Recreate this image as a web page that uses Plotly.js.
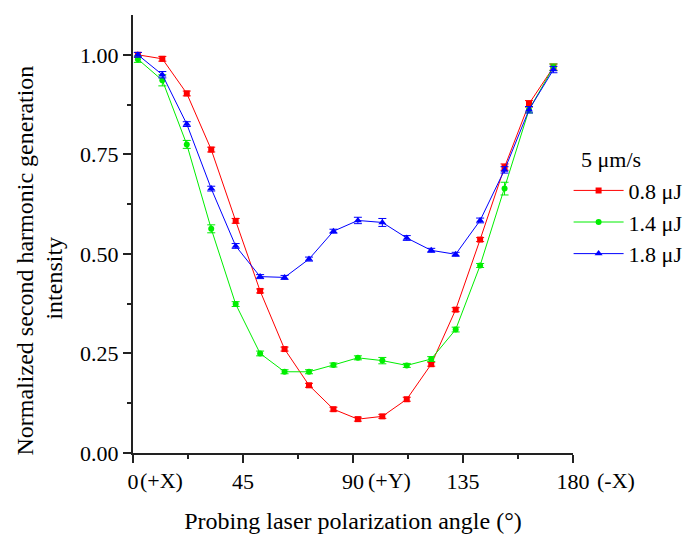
<!DOCTYPE html>
<html>
<head>
<meta charset="utf-8">
<script src="https://cdn.plot.ly/plotly-3.0.1.min.js"></script>
<style>html,body{margin:0;padding:0;background:#fff;}#chart{width:686px;height:534px;}</style>
</head>
<body>
<div id="chart"></div>
<script>
const angles = [2, 12, 22, 32, 42, 52, 62, 72, 82, 92, 102, 112, 122, 132, 142, 152, 162, 172];
const red08 = [1.000, 0.990, 0.903, 0.762, 0.583, 0.407, 0.261, 0.170, 0.110, 0.085, 0.092, 0.135, 0.223, 0.360, 0.536, 0.718, 0.877, 0.969];
const green14 = [0.989, 0.936, 0.775, 0.563, 0.374, 0.250, 0.204, 0.204, 0.221, 0.239, 0.232, 0.220, 0.236, 0.310, 0.471, 0.664, 0.862, 0.969];
const blue18 = [1.000, 0.950, 0.826, 0.664, 0.520, 0.443, 0.441, 0.487, 0.557, 0.584, 0.579, 0.540, 0.509, 0.499, 0.584, 0.711, 0.862, 0.963];
const redErr = [0.006, 0.006, 0.006, 0.006, 0.006, 0.005, 0.005, 0.005, 0.005, 0.005, 0.005, 0.005, 0.005, 0.005, 0.005, 0.008, 0.008, 0.008];
const greenErr = [0.008, 0.014, 0.010, 0.010, 0.006, 0.006, 0.005, 0.005, 0.005, 0.005, 0.008, 0.005, 0.006, 0.006, 0.005, 0.016, 0.008, 0.008];
const blueErr = [0.006, 0.008, 0.006, 0.006, 0.006, 0.005, 0.005, 0.005, 0.005, 0.008, 0.010, 0.006, 0.005, 0.005, 0.006, 0.008, 0.008, 0.008];
const seriesNames = ['0.8 μJ', '1.4 μJ', '1.8 μJ'];
const legendTitle = '5 μm/s';
const tickVals = [0, 45, 90, 135, 180];
const tickText = ['0', '45', '90', '135', '180'];
const tickSuffix = ['(+X)', '(+Y)', '(-X)'];
const tickSuffixAt = [0, 90, 180];
const yTitleLines = ['Normalized second harmonic generation', 'intensity'];

const font = 'Liberation Serif, Times New Roman, serif';
function mk(y, err, name, color, symbol, size) {
  return {
    x: angles, y: y, name: name, type: 'scatter', mode: 'lines+markers',
    line: {color: color, width: 1},
    marker: {color: color, symbol: symbol, size: size},
    error_y: {type: 'data', array: err, visible: true, color: color, thickness: 1, width: 4}
  };
}
const data = [
  mk(red08, redErr, seriesNames[0], '#ff0000', 'square', 6),
  mk(green14, greenErr, seriesNames[1], '#00ee00', 'circle', 6),
  mk(blue18, blueErr, seriesNames[2], '#0000ff', 'triangle-up', 7)
];
const shifts = [5, 13, 22];
const annotations = tickSuffix.map((s, i) => ({
  x: tickSuffixAt[i], y: 0, xref: 'x', yref: 'paper', text: s, showarrow: false,
  xanchor: 'left', yanchor: 'top', xshift: shifts[i], yshift: -13,
  font: {family: font, size: 22, color: '#000'}
}));
annotations.push({
  x: -0.245, y: 0.44, xref: 'paper', yref: 'paper', text: yTitleLines[0], showarrow: false,
  textangle: -90, xanchor: 'center', yanchor: 'middle', font: {family: font, size: 24, color: '#000'}
});
annotations.push({
  x: -0.18, y: 0.40, xref: 'paper', yref: 'paper', text: yTitleLines[1], showarrow: false,
  textangle: -90, xanchor: 'center', yanchor: 'middle', font: {family: font, size: 24, color: '#000'}
});
annotations.push({
  x: 1.086, y: 0.669, xref: 'paper', yref: 'paper', text: legendTitle, showarrow: false,
  xanchor: 'center', yanchor: 'middle', font: {family: font, size: 22, color: '#000'}
});
const layout = {
  width: 686, height: 534,
  margin: {l: 133, r: 113, t: 15, b: 81, autoexpand: false},
  paper_bgcolor: '#fff', plot_bgcolor: '#fff',
  font: {family: font, size: 22, color: '#000'},
  showlegend: true,
  legend: {
    x: 0.99, xanchor: 'left', y: 0.647, yanchor: 'top',
    font: {family: font, size: 22}, bgcolor: 'rgba(0,0,0,0)', tracegroupgap: 0,
    itemwidth: 50
  },
  xaxis: {
    range: [0, 180], tickvals: tickVals, ticktext: tickText,
    showline: true, linecolor: '#222', linewidth: 2, mirror: false,
    showgrid: false, zeroline: false,
    ticks: 'outside', ticklen: 8, tickwidth: 2, tickcolor: '#222',
    minor: {dtick: 22.5, ticks: 'outside', ticklen: 4, tickwidth: 2, tickcolor: '#222', showgrid: false},
    tickfont: {family: font, size: 22},
    title: {text: 'Probing laser polarization angle (°)', font: {family: font, size: 24}, standoff: 24}
  },
  yaxis: {
    range: [0, 1.1], tickvals: [0, 0.25, 0.5, 0.75, 1.0], ticktext: ['0.00', '0.25', '0.50', '0.75', '1.00'],
    showline: true, linecolor: '#222', linewidth: 2, mirror: false,
    showgrid: false, zeroline: false,
    ticks: 'outside', ticklen: 8, tickwidth: 2, tickcolor: '#222',
    minor: {dtick: 0.125, ticks: 'outside', ticklen: 4, tickwidth: 2, tickcolor: '#222', showgrid: false},
    tickfont: {family: font, size: 22}
  },
  annotations: annotations
};
Plotly.newPlot('chart', data, layout, {displayModeBar: false, staticPlot: true});
</script>
</body>
</html>
